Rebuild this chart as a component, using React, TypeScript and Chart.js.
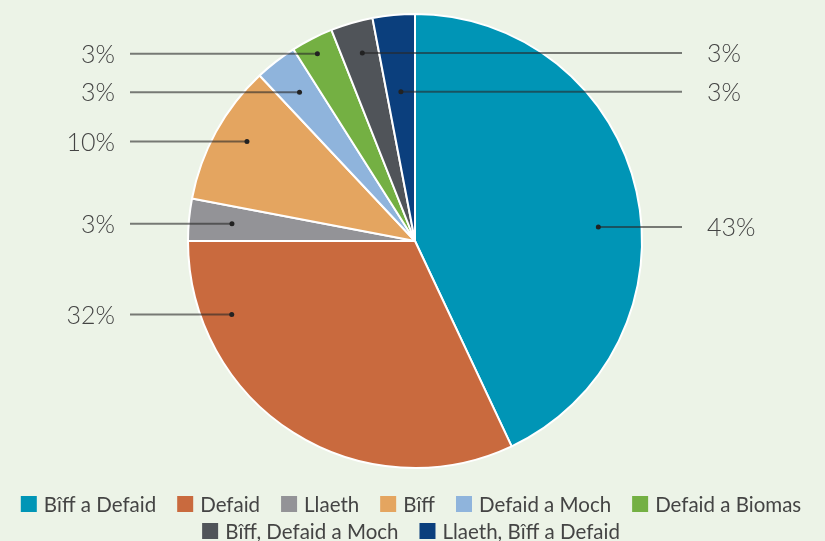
import React, { useEffect, useRef } from "react";
import { Chart, registerables } from "chart.js";

Chart.register(...registerables);

const categories = [
  "Bîff a Defaid",
  "Defaid",
  "Llaeth",
  "Bîff",
  "Defaid a Moch",
  "Defaid a Biomas",
  "Bîff, Defaid a Moch",
  "Llaeth, Bîff a Defaid",
];
const shares = [43, 32, 3, 10, 3, 3, 3, 3];
const percentLabels = ["43%", "32%", "3%", "10%", "3%", "3%", "3%", "3%"];
const sliceColors = [
  "#0095b6",
  "#c96a3e",
  "#939397",
  "#e4a560",
  "#8fb4dc",
  "#74b043",
  "#505459",
  "#0b3f7d",
];

// label leader placement (fraction along slice angle, fraction of radius, side)
const labelAngleFrac = [0.553, 0.81, 0.5, 0.55, 0.5, 0.45, 0.55, 0.5];
const labelRadiusFrac = [0.81, 0.87, 0.81, 0.86, 0.83, 0.93, 0.86, 0.66];
const labelSide = ["right", "left", "left", "left", "left", "left", "right", "right"];

const FONT = "Lato, 'Open Sans', 'DejaVu Sans', sans-serif";

const leaderPlugin = {
  id: "leaders",
  afterDatasetsDraw(chart: any) {
    const ctx = chart.ctx;
    const meta = chart.getDatasetMeta(0);
    ctx.save();
    meta.data.forEach((arc: any, i: number) => {
      const { x, y, startAngle, endAngle, outerRadius } = arc.getProps(
        ["x", "y", "startAngle", "endAngle", "outerRadius"],
        true
      );
      const a = startAngle + (endAngle - startAngle) * labelAngleFrac[i];
      const r = outerRadius * labelRadiusFrac[i];
      const dx = x + Math.cos(a) * r;
      const dy = y + Math.sin(a) * r;
      const right = labelSide[i] === "right";
      const lineEnd = right ? x + 267 : x - 285;
      ctx.strokeStyle = "rgba(40,40,40,0.6)";
      ctx.lineWidth = 2;
      ctx.beginPath();
      ctx.moveTo(dx, dy);
      ctx.lineTo(lineEnd, dy);
      ctx.stroke();
      ctx.fillStyle = "#222";
      ctx.beginPath();
      ctx.arc(dx, dy, 2.5, 0, Math.PI * 2);
      ctx.fill();
      ctx.fillStyle = "#444";
      ctx.font = `300 25px ${FONT}`;
      ctx.textBaseline = "middle";
      ctx.textAlign = right ? "left" : "right";
      ctx.fillText(percentLabels[i], right ? lineEnd + 25 : lineEnd - 15, dy + 1);
    });
    ctx.restore();
  },
};

const legendPlugin = {
  id: "customLegend",
  afterDraw(chart: any) {
    const ctx = chart.ctx;
    ctx.save();
    ctx.font = `400 20.5px ${FONT}`;
    ctx.textBaseline = "middle";
    ctx.textAlign = "left";
    const rows = [
      [0, 1, 2, 3, 4, 5],
      [6, 7],
    ];
    const box = 16;
    const gapText = 7;
    const gapItem = 21;
    const centerX = 411;
    const rowY = [504, 531];
    rows.forEach((row, ri) => {
      const widths = row.map((i) => box + gapText + ctx.measureText(categories[i]).width);
      const total = widths.reduce((s, w) => s + w, 0) + gapItem * (row.length - 1);
      let xx = centerX - total / 2;
      row.forEach((i, k) => {
        ctx.fillStyle = sliceColors[i];
        ctx.fillRect(xx, rowY[ri] - box / 2, box, box);
        ctx.fillStyle = "#444";
        ctx.fillText(categories[i], xx + box + gapText, rowY[ri] + 1);
        xx += widths[k] + gapItem;
      });
    });
    ctx.restore();
  },
};

export default function App() {
  const ref = useRef<HTMLCanvasElement>(null);
  useEffect(() => {
    document.body.style.margin = "0";
    const chart = new Chart(ref.current!, {
      type: "pie",
      data: {
        labels: categories,
        datasets: [
          {
            data: shares,
            backgroundColor: sliceColors,
            borderColor: "#ffffff",
            borderWidth: 2,
          },
        ],
      },
      options: {
        animation: false,
        responsive: false,
        maintainAspectRatio: false,
        layout: { padding: { top: 13, left: 5, right: 0, bottom: 72 } },
        plugins: {
          legend: { display: false },
          tooltip: { enabled: false },
        },
      },
      plugins: [leaderPlugin, legendPlugin],
    });
    return () => chart.destroy();
  }, []);
  return (
    <div style={{ width: 825, height: 541, background: "#ecf3e7", position: "relative" }}>
      <canvas ref={ref} width={825} height={541} style={{ display: "block" }} />
    </div>
  );
}
